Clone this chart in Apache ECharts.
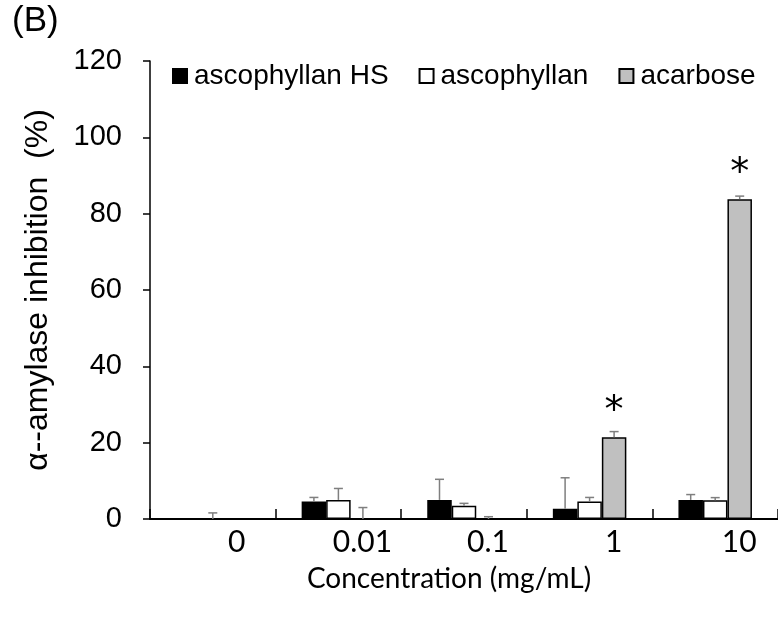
<!DOCTYPE html>
<html>
<head>
<meta charset="utf-8">
<script src="https://cdn.jsdelivr.net/npm/echarts@6/dist/echarts.min.js"></script>
<style>html,body{margin:0;padding:0;background:#fff;}#c{width:778px;height:628px;}</style>
</head>
<body>
<div id="c"></div>
<script>
const categories = ['0', '0.01', '0.1', '1', '10'];
const seriesNames = ['ascophyllan HS', 'ascophyllan', 'acarbose'];
const hsValues = [0, 4.6, 5.0, 2.7, 5.0];
const hsErrors = [0, 1.05, 5.4, 8.1, 1.4];
const ascValues = [0, 5.0, 3.5, 4.6, 4.9];
const ascErrors = [1.6, 3.0, 0.6, 1.05, 0.7];
const acaValues = [0, 0, 0, 21.4, 83.8];
const acaErrors = [0, 3.0, 0.6, 1.5, 0.8];
const significant = [false, false, false, true, true];
const yTicks = [0, 20, 40, 60, 80, 100, 120];

const chart = echarts.init(document.getElementById('c'), null, {renderer: 'canvas'});
const BAR_W = 24.5;
const arial = '"Liberation Sans", Arial, sans-serif';
const calibri = 'Lato, "Open Sans", sans-serif';

const errData = [];
[hsErrors, ascErrors, acaErrors].forEach((errs, si) => {
  const vals = [hsValues, ascValues, acaValues][si];
  errs.forEach((e, ci) => { if (e > 0) errData.push([ci, vals[ci], e, si]); });
});

const acaData = acaValues.map((v, i) => significant[i] ? {
  value: v,
  label: {show: true, position: 'top', distance: 6, formatter: '*', fontSize: 38, fontFamily: '"DejaVu Sans", sans-serif', color: '#000'}
} : v);

chart.setOption({
  animation: false,
  backgroundColor: '#fff',
  grid: {left: 150, right: -7, top: 61, bottom: 109, containLabel: false},
  legend: {
    data: seriesNames,
    left: 167, top: 57,
    icon: 'rect', itemWidth: 14, itemHeight: 14, itemGap: 30,
    textStyle: {fontFamily: arial, fontSize: 28, color: '#000', padding: [0, 0, 0, 2]},
    selectedMode: false
  },
  graphic: [{
    type: 'text', left: 12, top: 4,
    style: {text: '(B)', font: '35px "Liberation Sans", Arial, sans-serif', fill: '#000'}
  }],
  xAxis: {
    type: 'category', data: categories,
    axisLine: {show: true, lineStyle: {color: '#000', width: 2}},
    axisTick: {show: true, inside: true, length: 10, lineStyle: {color: '#000', width: 1.5}},
    axisLabel: {fontFamily: calibri, fontSize: 30, color: '#000', margin: 8, padding: [0, 0, 0, 48]},
    name: 'Concentration (mg/mL)', nameLocation: 'middle', nameGap: 46,
    nameTextStyle: {fontFamily: calibri, fontSize: 28, color: '#000', padding: [0, 30, 0, 0]}
  },
  yAxis: {
    type: 'value', min: 0, max: 120, interval: 20,
    axisLine: {show: true, lineStyle: {color: '#000', width: 1.5}},
    axisTick: {show: true, length: 7, lineStyle: {color: '#000', width: 1.5}},
    splitLine: {show: false},
    axisLabel: {fontFamily: arial, fontSize: 29, color: '#000', margin: 28,
      formatter: v => yTicks.includes(v) ? String(v) : ''},
    name: 'α--amylase inhibition  (%)', nameLocation: 'middle', nameGap: 96,
    nameTextStyle: {fontFamily: arial, fontSize: 32, color: '#000'}
  },
  series: [
    {name: seriesNames[0], type: 'bar', data: hsValues, barWidth: BAR_W, barGap: '0%',
     itemStyle: {color: '#000', borderColor: '#000', borderWidth: 1.5}},
    {name: seriesNames[1], type: 'bar', data: ascValues, barWidth: BAR_W, barGap: '0%',
     itemStyle: {color: '#fff', borderColor: '#000', borderWidth: 1.5}},
    {name: seriesNames[2], type: 'bar', data: acaData, barWidth: BAR_W, barGap: '0%',
     itemStyle: {color: '#c0c0c0', borderColor: '#000', borderWidth: 1.5}},
    {type: 'custom', name: 'err', data: errData, z: 5,
     encode: {x: 0, y: 1},
     renderItem: function (params, api) {
       const ci = api.value(0), v = api.value(1), e = api.value(2), si = api.value(3);
       const base = api.coord([ci, v]);
       const top = api.coord([ci, v + e]);
       const x = base[0] + (si - 1) * BAR_W;
       const half = 4.5;
       const st = {stroke: '#7f7f7f', lineWidth: 1.5};
       return {type: 'group', children: [
         {type: 'line', shape: {x1: x, y1: base[1], x2: x, y2: top[1]}, style: st},
         {type: 'line', shape: {x1: x - half, y1: top[1], x2: x + half, y2: top[1]}, style: st}
       ]};
     }}
  ]
});
</script>
</body>
</html>
